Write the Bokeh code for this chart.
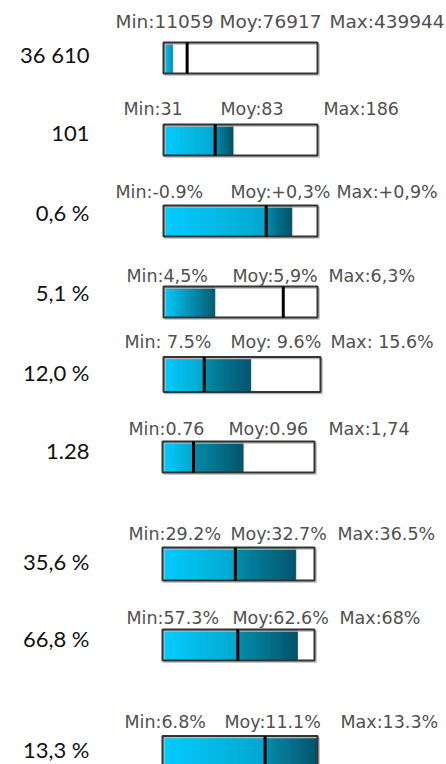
import numpy as np
from bokeh.plotting import figure
from bokeh.models import Range1d, ColumnDataSource
from bokeh.embed import file_html
from bokeh.resources import INLINE
from bokeh.core.properties import value

# ---------------- data ----------------
value_labels = ["36 610", "101", "0,6 %", "5,1 %", "12,0 %", "1.28", "35,6 %", "66,8 %", "13,3 %"]
values = [36610, 101, 0.6, 5.1, 12.0, 1.28, 35.6, 66.8, 13.3]
mins = [11059, 31, -0.9, 4.5, 7.5, 0.76, 29.2, 57.3, 6.8]
avgs = [76917, 83, 0.3, 5.9, 9.6, 0.96, 32.7, 62.6, 11.1]
maxs = [439944, 186, 0.9, 6.3, 15.6, 1.74, 36.5, 68, 13.3]
min_labels = ["Min:11059", "Min:31", "Min:-0.9%", "Min:4,5%", "Min: 7.5%", "Min:0.76", "Min:29.2%", "Min:57.3%", "Min:6.8%"]
avg_labels = ["Moy:76917", "Moy:83", "Moy:+0,3%", "Moy:5,9%", "Moy: 9.6%", "Moy:0.96", "Moy:32.7%", "Moy:62.6%", "Moy:11.1%"]
max_labels = ["Max:439944", "Max:186", "Max:+0,9%", "Max:6,3%", "Max: 15.6%", "Max:1,74", "Max:36.5%", "Max:68%", "Max:13.3%"]

# ---------------- layout (page pixels) ----------------
bar_cy = [57.5, 139.5, 220.5, 301.5, 374, 456.5, 563.5, 644.5, 751]
bar_h = [31, 31, 31, 31, 35, 31, 33, 31, 31]
bar_x0 = [163, 163, 163, 163, 163, 162, 162, 162, 162]
bar_x1 = [317, 317, 317, 317, 320, 314, 314, 314, 317]
cap_base = [21, 108, 191, 275, 341, 428, 533, 617, 721]
cap_size = ["18.5px", "17.5px", "17.5px", "17.5px", "17.5px", "17.5px", "17.5px", "17.5px", "17.5px"]
cap_min_x = [115, 123, 115, 126, 124, 128, 128, 126, 124]
cap_avg_x = [219, 220, 230, 232, 230, 228, 230, 232, 224]
cap_max_x = [329, 323, 336, 328, 330, 328, 337, 339, 340]
label_right = 89
label_base = [54, 133, 212, 292, 372, 451, 561, 638, 749]

W, H = 446, 764
p = figure(width=W, height=H, output_backend="svg", toolbar_location=None,
           x_range=Range1d(0, W), y_range=Range1d(H, 0),
           min_border=0, outline_line_color=None, background_fill_color="white")
p.axis.visible = False
p.grid.visible = False


def hex2rgb(h):
    h = h.lstrip("#")
    return np.array([int(h[i:i + 2], 16) for i in (0, 2, 4)], dtype=float)


def grad(c0, c1, t):
    a, b = hex2rgb(c0), hex2rgb(c1)
    c = a + (b - a) * t
    return "#%02x%02x%02x" % tuple(int(round(v)) for v in c)


L0, L1 = "#00ccff", "#00a6cf"
D0, D1 = "#008cab", "#00526a"

gl, gr, gt, gb, gc = [], [], [], [], []


def add_grad(x0, x1, top, bot, c0, c1):
    n = max(2, int(round((x1 - x0))))
    edges = np.linspace(x0, x1, n + 1)
    for i in range(n):
        gl.append(edges[i]); gr.append(edges[i + 1])
        gt.append(top); gb.append(bot)
        gc.append(grad(c0, c1, (i + 0.5) / n))


ol, orr, ot, ob = [], [], [], []
mx, my0, my1 = [], [], []
for i in range(len(values)):
    rng = maxs[i] - mins[i]
    fv = (values[i] - mins[i]) / rng
    fa = (avgs[i] - mins[i]) / rng
    x0, x1 = bar_x0[i], bar_x1[i]
    w = x1 - x0
    top = bar_cy[i] - bar_h[i] / 2
    bot = bar_cy[i] + bar_h[i] / 2
    xv = x0 + fv * w
    xa = x0 + fa * w
    if fv <= fa:
        if fv < 0.15:
            add_grad(x0, xv, top, bot, L0, "#0090b8")
        else:
            add_grad(x0, xv, top, bot, L0, "#005a70")
    else:
        add_grad(x0, xa, top, bot, L0, L1)
        add_grad(xa, xv, top, bot, D0, D1)
    ol.append(x0); orr.append(x1); ot.append(top); ob.append(bot)
    mx.append(xa); my0.append(top); my1.append(bot)

gsrc = ColumnDataSource(dict(left=gl, right=gr, top=gt, bottom=gb, color=gc))
p.quad(left="left", right="right", top="top", bottom="bottom", source=gsrc,
       fill_color="color", line_color="color", line_width=0.8)

# shadow + outline
p.quad(left=[v + 1.5 for v in ol], right=[v + 1.5 for v in orr],
       top=[v + 1.5 for v in ot], bottom=[v + 1.5 for v in ob],
       fill_color=None, line_color="#b8b8b8", line_width=1.5)
p.quad(left=ol, right=orr, top=ot, bottom=ob, fill_color=None,
       line_color="#333333", line_width=2)
# average markers
p.segment(x0=mx, y0=my0, x1=mx, y1=my1, line_color="black", line_width=3)

# captions
cap_color = "#505050"
for xs, labels in ((cap_min_x, min_labels), (cap_avg_x, avg_labels), (cap_max_x, max_labels)):
    src = ColumnDataSource(dict(x=xs, y=cap_base, text=labels, size=cap_size))
    p.text(x="x", y="y", text="text", source=src, text_font=value("DejaVu Sans"),
           text_font_size="size", text_color=cap_color, text_align="left",
           text_baseline="alphabetic")

# value labels
p.text(x=[label_right] * len(value_labels), y=label_base, text=value_labels,
       text_font=value("Lato"), text_font_size="22px", text_color="#111111",
       text_align="right", text_baseline="alphabetic")

open("out.html", "w").write(file_html(p, INLINE))
